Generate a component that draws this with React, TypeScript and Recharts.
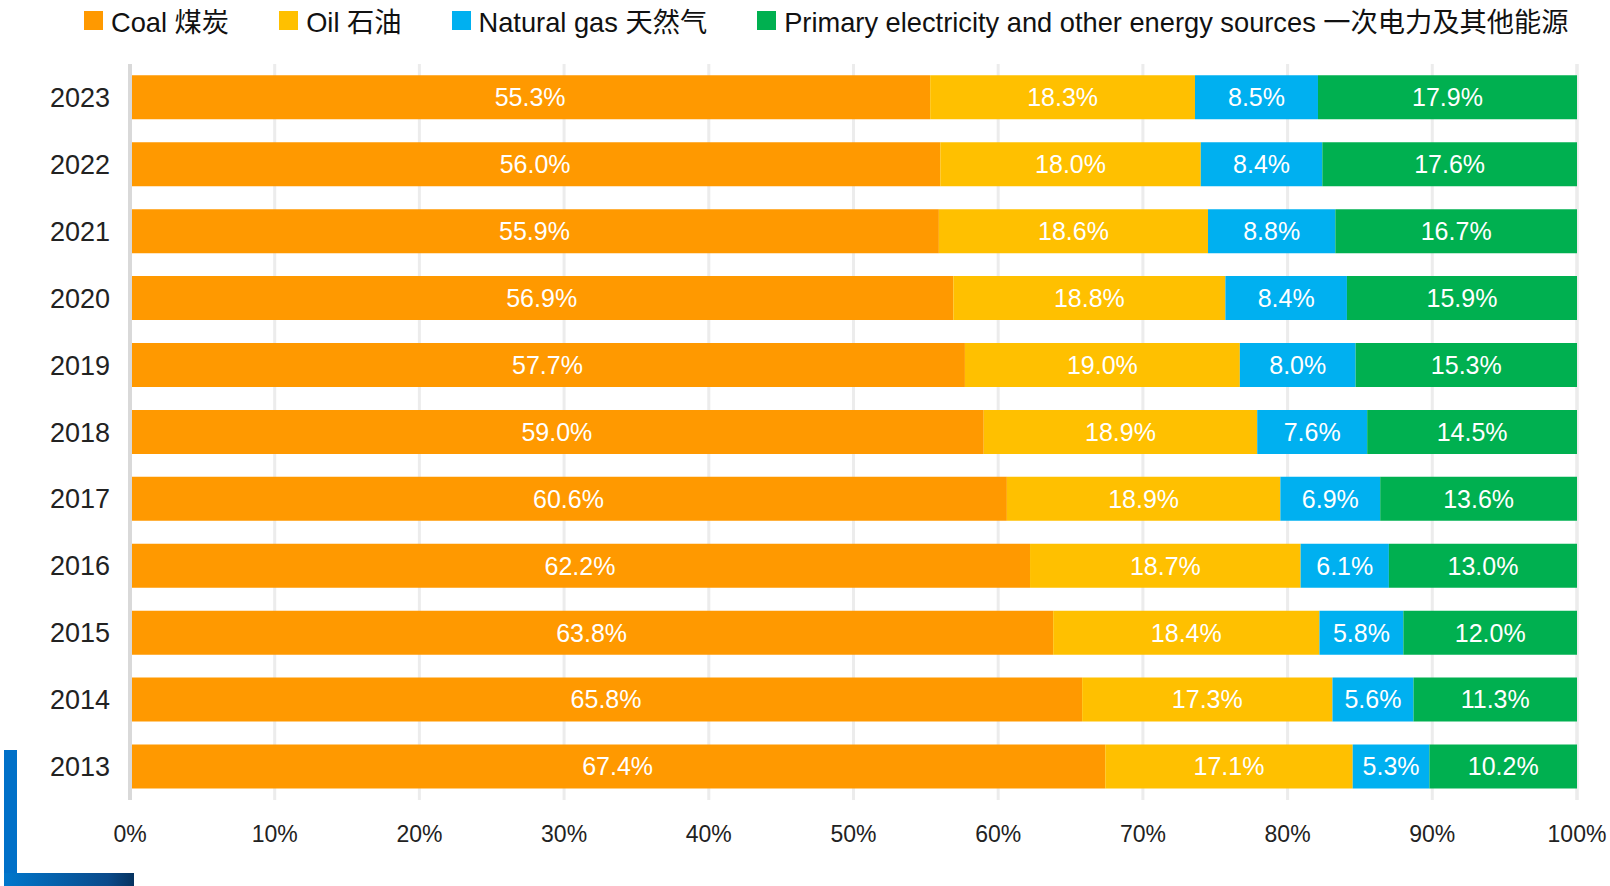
import { BarChart, Bar, XAxis, YAxis, CartesianGrid, LabelList } from 'recharts';

const years = ['2023', '2022', '2021', '2020', '2019', '2018', '2017', '2016', '2015', '2014', '2013'];
const coal = [55.3, 56.0, 55.9, 56.9, 57.7, 59.0, 60.6, 62.2, 63.8, 65.8, 67.4];
const oil = [18.3, 18.0, 18.6, 18.8, 19.0, 18.9, 18.9, 18.7, 18.4, 17.3, 17.1];
const gas = [8.5, 8.4, 8.8, 8.4, 8.0, 7.6, 6.9, 6.1, 5.8, 5.6, 5.3];
const primary = [17.9, 17.6, 16.7, 15.9, 15.3, 14.5, 13.6, 13.0, 12.0, 11.3, 10.2];
const xTicks = [0, 10, 20, 30, 40, 50, 60, 70, 80, 90, 100];

const seriesList = [
  { key: 'coal', name: 'Coal 煤炭', color: '#FF9900' },
  { key: 'oil', name: 'Oil 石油', color: '#FFC000' },
  { key: 'gas', name: 'Natural gas 天然气', color: '#00B0F0' },
  { key: 'primary', name: 'Primary electricity and other energy sources 一次电力及其他能源', color: '#00B050' },
];

const data = years.map((year, i) => ({
  year,
  coal: coal[i],
  oil: oil[i],
  gas: gas[i],
  primary: primary[i],
}));

const FONT = '"Liberation Sans", Arial, "Noto Sans CJK SC", sans-serif';

// legend sits above the plot, drawn by hand so it doesn't eat plot space
function LegendRow() {
  return (
    <div style={{ position: 'absolute', left: 84, top: 0, display: 'flex', gap: 50, alignItems: 'center', fontFamily: FONT, fontSize: 27.25, color: '#111' }}>
      {seriesList.map((s) => (
        <div key={s.key} style={{ display: 'flex', alignItems: 'center' }}>
          <span style={{ width: 19, height: 19, background: s.color, display: 'inline-block', marginRight: 8 }} />
          <span style={{ whiteSpace: 'nowrap' }}>{s.name}</span>
        </div>
      ))}
    </div>
  );
}

export default function App() {
  return (
    <div style={{ position: 'absolute', left: 0, top: 0, width: 1610, height: 886, background: '#fff', overflow: 'hidden' }}>
      <BarChart
        width={1610}
        height={886}
        data={data}
        layout="vertical"
        barCategoryGap="17%"
        margin={{ top: 64, right: 33, bottom: 0, left: 0 }}
      >
        <CartesianGrid horizontal={false} stroke="#ececec" strokeWidth={3} />
        <XAxis
          type="number"
          domain={[0, 100]}
          ticks={xTicks}
          tickFormatter={(v) => `${v}%`}
          axisLine={false}
          tickLine={false}
          tickSize={0}
          tickMargin={26}
          height={86}
          interval={0}
          tick={{ fill: '#222', fontSize: 23, fontFamily: FONT }}
        />
        <YAxis
          type="category"
          dataKey="year"
          width={130}
          axisLine={{ stroke: '#d9d9d9', strokeWidth: 4 }}
          tickLine={false}
          tickSize={0}
          tickMargin={20}
          tick={{ fill: '#222', fontSize: 27, fontFamily: FONT }}
        />
        {seriesList.map((s) => (
          <Bar key={s.key} dataKey={s.key} name={s.name} stackId="a" fill={s.color} isAnimationActive={false}>
            <LabelList
              dataKey={s.key}
              position="center"
              fill="#fff"
              fontSize={25}
              fontFamily={FONT}
              formatter={(v: number) => `${Number(v).toFixed(1)}%`}
            />
          </Bar>
        ))}
      </BarChart>
      <LegendRow />
      <div style={{ position: 'absolute', left: 4, top: 750, width: 13, height: 136, background: '#0070C8' }} />
      <div style={{ position: 'absolute', left: 4, top: 873, width: 130, height: 13, background: 'linear-gradient(to right, #0077cc, #0a4a8a 80%, #06335f)' }} />
    </div>
  );
}
